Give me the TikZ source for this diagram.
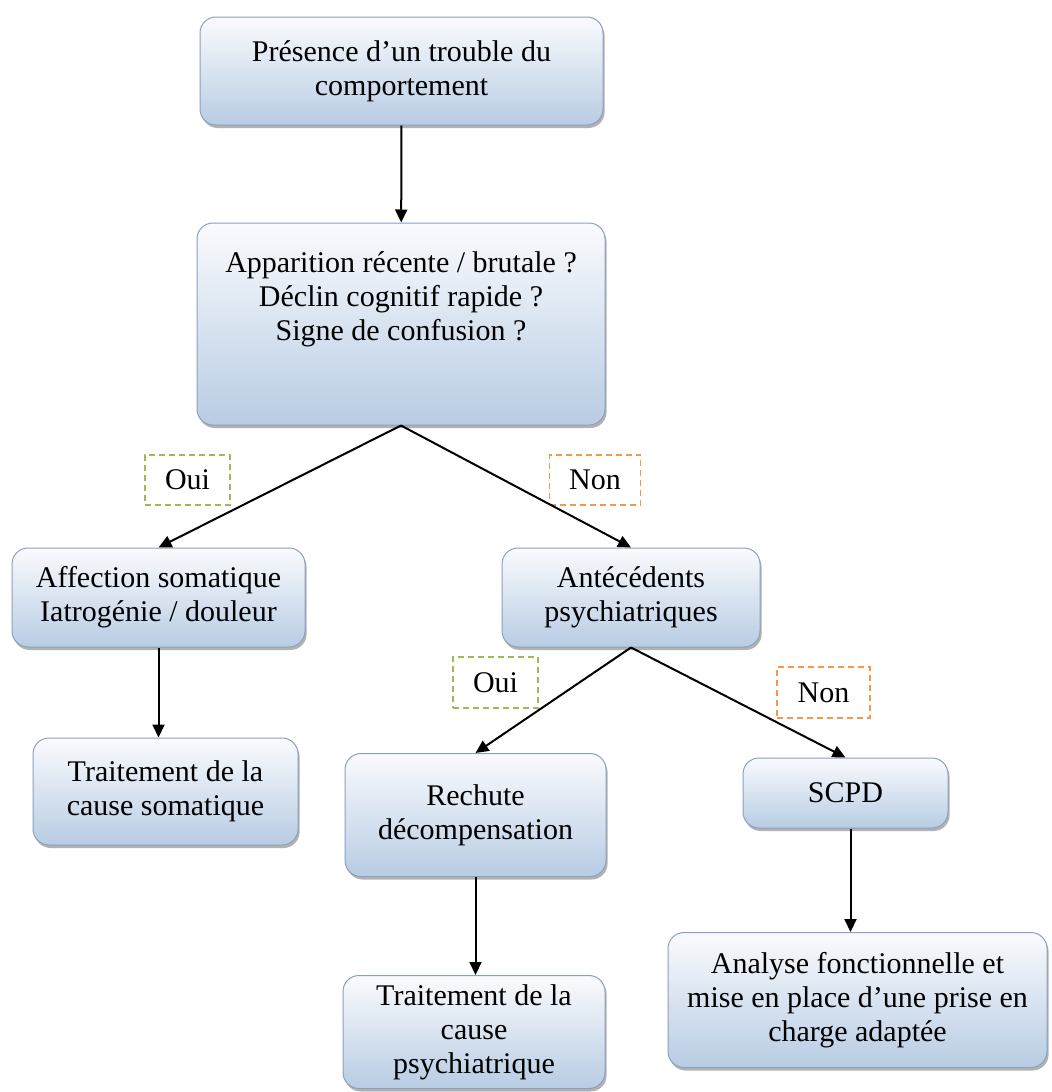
\documentclass[tikz,border=0pt]{standalone}
\usepackage{fontspec}
\setmainfont{Liberation Serif}
\usetikzlibrary{arrows.meta,shadows}
\definecolor{boxtop}{RGB}{250,251,253}
\definecolor{boxbot}{RGB}{184,204,228}
\definecolor{boxline}{RGB}{140,160,190}
\definecolor{ouicol}{RGB}{155,187,89}
\definecolor{noncol}{RGB}{247,150,70}
\begin{document}
\begin{tikzpicture}[x=0.5pt,y=-0.5pt,
  box/.style={draw=boxline, line width=0.5pt, rounded corners=8pt,
    top color=boxtop, bottom color=boxbot, inner sep=0pt, align=center,
    font=\fontsize{15}{17}\selectfont,
    drop shadow={shadow xshift=0.8pt, shadow yshift=-1.5pt, fill=black, opacity=0.3}},
  txt/.style={inner sep=0pt, align=center, font=\fontsize{15}{17}\selectfont},
  lab/.style={dashed, dash pattern=on 3pt off 2pt, line width=0.7pt,
    inner sep=0pt, font=\fontsize{15}{17}\selectfont},
  arr/.style={-{Triangle[length=6.5pt,width=6pt]}, line width=1pt}]
\useasboundingbox (0,0) rectangle (1051,1092);

\node[box, minimum width=201.5pt, minimum height=54pt] (top) at (401.5,71)
  {Présence d’un trouble du\\comportement};
\node[box, minimum width=204pt, minimum height=101pt] (box2) at (401,324) {};
\node[txt] (box2t) at (401,299)
  {Apparition récente / brutale ?\\Déclin cognitif rapide ?\\Signe de confusion ?};

\node[lab, draw=ouicol, minimum width=42.5pt, minimum height=25pt] (oui1) at (187.5,480) {Oui};
\node[lab, draw=noncol, minimum width=45.5pt, minimum height=25pt] (non1) at (595,480) {Non};

\node[box, minimum width=146.5pt, minimum height=49.5pt] (aff) at (158.5,597.5)
  {Affection somatique\\Iatrogénie / douleur};
\node[box, minimum width=129pt, minimum height=49.5pt] (ant) at (631,597.5)
  {Antécédents\\psychiatriques};

\node[lab, draw=ouicol, minimum width=42.5pt, minimum height=25.5pt] (oui2) at (495.5,682.5) {Oui};
\node[lab, draw=noncol, minimum width=46.5pt, minimum height=25.5pt] (non2) at (823.5,692.5) {Non};

\node[box, minimum width=132.5pt, minimum height=53.5pt] (tsom) at (165.5,791.5)
  {Traitement de la\\cause somatique};
\node[box, minimum width=130.5pt, minimum height=61.5pt] (rech) at (475.5,815)
  {Rechute\\décompensation};
\node[box, minimum width=102.5pt, minimum height=35pt] (scpd) at (845.5,793) {SCPD};

\node[box, minimum width=131pt, minimum height=56.5pt] (tpsy) at (474,1032)
  {Traitement de la\\cause\\psychiatrique};
\node[box, minimum width=189.5pt, minimum height=67.5pt] (ana) at (857.5,1000)
  {Analyse fonctionnelle et\\mise en place d’une prise en\\charge adaptée};

\draw[arr] (top) -- (box2);
\draw[arr] (box2.south) -- (aff.north);
\draw[arr] (box2.south) -- (ant.north);
\draw[arr] (aff.south) -- (aff.south |- tsom.north);
\draw[arr] (ant.south) -- (rech.north);
\draw[arr] (ant.south) -- (scpd.north);
\draw[arr] (rech.south) -- (rech.south |- tpsy.north);
\draw[arr] ([xshift=2.5pt]scpd.south) -- ([xshift=2.5pt]scpd.south |- ana.north);
\end{tikzpicture}
\end{document}
